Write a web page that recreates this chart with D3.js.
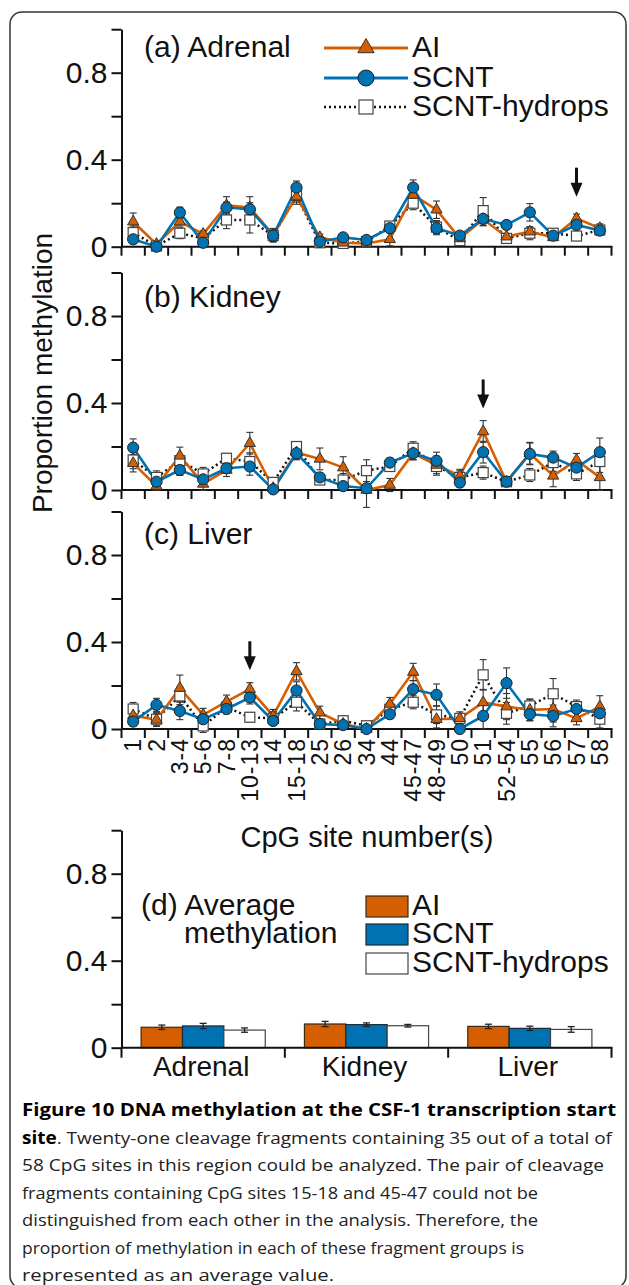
<!DOCTYPE html>
<html><head><meta charset="utf-8">
<script src="https://cdn.jsdelivr.net/npm/d3@7"></script>
<style>body{margin:0;background:#fff}svg{display:block}</style>
</head><body>
<svg id="c" width="629" height="1285"></svg>
<script>
// ---------------- DATA ----------------
const categories = ["1","2","3-4","5-6","7-8","10-13","14","15-18","25","26","34","44","45-47","48-49","50","51","52-54","55","56","57","58"];
const seriesNames = ["AI","SCNT","SCNT-hydrops"];
const yTickValues = [0, 0.2, 0.4, 0.6, 0.8, 1];
const yTickLabels = ["0", "", "0.4", "", "0.8", ""];

// (a) Adrenal
const adrenalAI      = [0.115,0.012,0.115,0.058,0.19,0.18,0.054,0.23,0.043,0.018,0.015,0.034,0.238,0.17,0.038,0.126,0.046,0.069,0.043,0.13,0.085];
const adrenalAIErr   = [0.04,0.01,0.02,0.015,0.04,0.05,0.03,0.035,0.015,0.01,0.01,0.03,0.035,0.04,0.015,0.03,0.015,0.02,0.015,0.02,0.02];
const adrenalSCNT    = [0.034,0.0,0.157,0.018,0.18,0.172,0.051,0.272,0.023,0.043,0.031,0.085,0.272,0.085,0.051,0.128,0.1,0.158,0.051,0.1,0.074];
const adrenalSCNTErr = [0.02,0.005,0.025,0.01,0.025,0.03,0.02,0.03,0.01,0.01,0.01,0.02,0.035,0.03,0.015,0.03,0.015,0.04,0.02,0.015,0.02];
const adrenalHyd     = [0.065,0.003,0.062,0.038,0.123,0.123,0.051,0.235,0.018,0.015,0.023,0.095,0.2,0.09,0.028,0.166,0.038,0.062,0.062,0.049,0.077];
const adrenalHydErr  = [0.03,0.005,0.025,0.02,0.04,0.06,0.03,0.03,0.01,0.01,0.01,0.02,0.03,0.03,0.01,0.06,0.02,0.03,0.02,0.01,0.02];

// (b) Kidney
const kidneyAI      = [0.123,0.018,0.157,0.028,0.092,0.215,0.008,0.172,0.143,0.103,0.0,0.023,0.169,0.115,0.065,0.269,0.038,0.169,0.065,0.138,0.058];
const kidneyAIErr   = [0.04,0.02,0.04,0.03,0.03,0.05,0.02,0.03,0.05,0.05,0.08,0.03,0.03,0.04,0.03,0.05,0.02,0.05,0.05,0.03,0.06];
const kidneySCNT    = [0.195,0.038,0.092,0.049,0.1,0.108,0.003,0.169,0.058,0.018,0.008,0.126,0.169,0.134,0.034,0.174,0.038,0.166,0.149,0.103,0.174];
const kidneySCNTErr = [0.04,0.02,0.025,0.02,0.02,0.04,0.01,0.03,0.02,0.02,0.02,0.02,0.03,0.04,0.02,0.05,0.015,0.05,0.03,0.02,0.065];
const kidneyHyd     = [0.138,0.058,0.135,0.074,0.146,0.131,0.035,0.2,0.046,0.046,0.089,0.108,0.192,0.108,0.058,0.08,0.038,0.069,0.126,0.074,0.131];
const kidneyHydErr  = [0.04,0.03,0.02,0.03,0.02,0.04,0.02,0.02,0.02,0.03,0.05,0.02,0.03,0.04,0.03,0.03,0.02,0.03,0.04,0.03,0.05];

// (c) Liver
const liverAI      = [0.062,0.042,0.188,0.065,0.126,0.183,0.06,0.265,0.075,0.023,0.0,0.115,0.262,0.045,0.049,0.122,0.103,0.088,0.092,0.049,0.103];
const liverAIErr   = [0.02,0.03,0.06,0.03,0.03,0.03,0.03,0.04,0.03,0.02,0.01,0.03,0.04,0.04,0.03,0.06,0.06,0.05,0.06,0.03,0.05];
const liverSCNT    = [0.034,0.111,0.083,0.045,0.092,0.145,0.037,0.177,0.023,0.018,0.0,0.068,0.183,0.157,0.0,0.06,0.211,0.068,0.06,0.092,0.072];
const liverSCNTErr = [0.02,0.03,0.04,0.03,0.02,0.03,0.02,0.04,0.02,0.01,0.01,0.02,0.04,0.05,0.01,0.06,0.07,0.03,0.05,0.02,0.03];
const liverHyd     = [0.092,0.045,0.152,0.014,0.1,0.054,0.049,0.123,0.023,0.038,0.015,0.091,0.123,0.065,0.049,0.249,0.072,0.106,0.162,0.103,0.045];
const liverHydErr  = [0.03,0.03,0.04,0.03,0.03,0.02,0.03,0.04,0.02,0.02,0.01,0.03,0.03,0.04,0.02,0.07,0.05,0.03,0.07,0.03,0.04];

// arrows: category and value of arrow tip
const arrowCategories = ["57","51","10-13"];
const arrowTips = [0.23, 0.375, 0.27];

// (d) Average
const tissues = ["Adrenal","Kidney","Liver"];
const avgAI      = [0.094,0.109,0.098];
const avgAIErr   = [0.01,0.012,0.01];
const avgSCNT    = [0.1,0.106,0.089];
const avgSCNTErr = [0.012,0.008,0.01];
const avgHyd     = [0.081,0.101,0.084];
const avgHydErr  = [0.01,0.006,0.013];

// ---------------- STYLE / LAYOUT ----------------
const ORANGE = "#D55E00", BLUE = "#0072B2";
const FONT = "'Liberation Sans', Arial, sans-serif";
const X0 = 121.5, X1 = 611.5;
const UNIT = 217.5;

const svg = d3.select("#c");

// frame
svg.append("rect").attr("x", 10).attr("y", 12).attr("width", 616).attr("height", 1276)
  .attr("rx", 12).attr("fill", "none").attr("stroke", "#333").attr("stroke-width", 1.5);

const x = d3.scaleBand().domain(categories).range([X0, X1]).padding(0);
const cx = c => x(c) + x.bandwidth() / 2;

function yAxis(g, y) {
  g.call(d3.axisLeft(y).tickValues(yTickValues).tickSize(10).tickSizeOuter(0).tickPadding(4)
    .tickFormat((d, i) => yTickLabels[i]));
  g.select(".domain").attr("stroke", "#111").attr("stroke-width", 2);
  g.selectAll(".tick line").attr("stroke", "#111").attr("stroke-width", 2);
  g.selectAll(".tick text").attr("font-family", FONT).attr("font-size", 30).attr("fill", "#111");
}

function drawPanel(zeroY, series, label, labelY, arrowIdx, showLabels) {
  const y = d3.scaleLinear().domain([0, 1]).range([zeroY, zeroY - UNIT]);
  const g = svg.append("g");
  // x axis line + boundary ticks
  g.append("line").attr("x1", X0).attr("x2", X1 + 1).attr("y1", y(0)).attr("y2", y(0))
    .attr("stroke", "#111").attr("stroke-width", 2);
  const bounds = categories.map(c => x(c)).concat([X1]);
  g.selectAll(".bt").data(bounds).join("line")
    .attr("x1", d => d).attr("x2", d => d).attr("y1", y(0)).attr("y2", y(0) + 9)
    .attr("stroke", "#111").attr("stroke-width", 2);
  yAxis(g.append("g").attr("transform", `translate(${X0},0)`), y);

  if (showLabels) {
    g.selectAll(".xl").data(categories).join("text")
      .attr("transform", d => `translate(${cx(d)},${y(0) + 9}) rotate(-90)`)
      .attr("text-anchor", "end").attr("dy", "0.36em")
      .attr("font-family", FONT).attr("font-size", 23).attr("letter-spacing", 1)
      .attr("fill", "#111").text(d => d);
  }

  g.append("text").attr("x", 144).attr("y", labelY).attr("font-family", FONT)
    .attr("font-size", 30).attr("fill", "#111").text(label);

  const line = d3.line().x((d, i) => cx(categories[i])).y(d => y(d));
  // lines
  g.append("path").attr("d", line(series.hyd)).attr("fill", "none").attr("stroke", "#111")
    .attr("stroke-width", 2.5).attr("stroke-dasharray", "2,3");
  g.append("path").attr("d", line(series.ai)).attr("fill", "none").attr("stroke", ORANGE).attr("stroke-width", 2.6);
  g.append("path").attr("d", line(series.scnt)).attr("fill", "none").attr("stroke", BLUE).attr("stroke-width", 2.6);

  // error bars
  const eb = (vals, errs) => {
    vals.forEach((v, i) => {
      const xc = cx(categories[i]);
      const e = errs[i];
      const gg = g.append("g").attr("stroke", "#333").attr("stroke-width", 1.1);
      gg.append("line").attr("x1", xc).attr("x2", xc).attr("y1", y(v + e)).attr("y2", y(v - e));
      gg.append("line").attr("x1", xc - 3.5).attr("x2", xc + 3.5).attr("y1", y(v + e)).attr("y2", y(v + e));
      gg.append("line").attr("x1", xc - 3.5).attr("x2", xc + 3.5).attr("y1", y(v - e)).attr("y2", y(v - e));
    });
  };
  eb(series.hyd, series.hydErr);
  eb(series.ai, series.aiErr);
  eb(series.scnt, series.scntErr);

  // markers
  g.selectAll(".sq").data(series.hyd).join("rect")
    .attr("x", (d, i) => cx(categories[i]) - 5).attr("y", d => y(d) - 5)
    .attr("width", 10).attr("height", 10).attr("fill", "#fff").attr("stroke", "#444").attr("stroke-width", 1.2);
  g.selectAll(".tr").data(series.ai).join("path")
    .attr("d", d3.symbol(d3.symbolTriangle, 55))
    .attr("transform", (d, i) => `translate(${cx(categories[i])},${y(d)})`)
    .attr("fill", ORANGE).attr("stroke", "#333").attr("stroke-width", 1);
  g.selectAll(".ci").data(series.scnt).join("circle")
    .attr("cx", (d, i) => cx(categories[i])).attr("cy", d => y(d)).attr("r", 5.6)
    .attr("fill", BLUE).attr("stroke", "#222").attr("stroke-width", 1);

  // arrow
  const ax = cx(arrowCategories[arrowIdx]);
  const tip = y(arrowTips[arrowIdx]);
  g.append("line").attr("x1", ax).attr("x2", ax).attr("y1", tip - 29).attr("y2", tip - 10)
    .attr("stroke", "#111").attr("stroke-width", 3);
  g.append("path").attr("d", `M${ax - 6},${tip - 14}L${ax + 6},${tip - 14}L${ax},${tip}Z`).attr("fill", "#111");
  return g;
}

drawPanel(246.7, {ai: adrenalAI, aiErr: adrenalAIErr, scnt: adrenalSCNT, scntErr: adrenalSCNTErr, hyd: adrenalHyd, hydErr: adrenalHydErr},
  "(a) Adrenal", 57, 0, false);
drawPanel(490, {ai: kidneyAI, aiErr: kidneyAIErr, scnt: kidneySCNT, scntErr: kidneySCNTErr, hyd: kidneyHyd, hydErr: kidneyHydErr},
  "(b) Kidney", 307, 1, false);
drawPanel(729, {ai: liverAI, aiErr: liverAIErr, scnt: liverSCNT, scntErr: liverSCNTErr, hyd: liverHyd, hydErr: liverHydErr},
  "(c) Liver", 544, 2, true);

// legend (a)
const leg = svg.append("g");
const legY = [48, 78, 107];
leg.append("line").attr("x1", 324).attr("x2", 408).attr("y1", legY[0]).attr("y2", legY[0]).attr("stroke", ORANGE).attr("stroke-width", 3);
leg.append("path").attr("d", d3.symbol(d3.symbolTriangle, 115)).attr("transform", `translate(366,${legY[0]})`)
  .attr("fill", ORANGE).attr("stroke", "#333").attr("stroke-width", 1);
leg.append("line").attr("x1", 324).attr("x2", 408).attr("y1", legY[1]).attr("y2", legY[1]).attr("stroke", BLUE).attr("stroke-width", 3);
leg.append("circle").attr("cx", 366).attr("cy", legY[1]).attr("r", 8).attr("fill", BLUE).attr("stroke", "#222").attr("stroke-width", 1);
leg.append("line").attr("x1", 324).attr("x2", 408).attr("y1", legY[2]).attr("y2", legY[2]).attr("stroke", "#111")
  .attr("stroke-width", 2.5).attr("stroke-dasharray", "2,3");
leg.append("rect").attr("x", 359).attr("y", legY[2] - 7).attr("width", 14).attr("height", 14)
  .attr("fill", "#fff").attr("stroke", "#444").attr("stroke-width", 1.2);
seriesNames.forEach((s, i) => {
  leg.append("text").attr("x", 412).attr("y", legY[i] + 9).attr("font-family", FONT).attr("font-size", 30)
    .attr("fill", "#111").text(s);
});

// x axis title
svg.append("text").attr("x", 367).attr("y", 847).attr("text-anchor", "middle").attr("font-family", FONT)
  .attr("font-size", 29).attr("fill", "#111").text("CpG site number(s)");

// y axis title
svg.append("text").attr("transform", "translate(52,373) rotate(-90)").attr("text-anchor", "middle")
  .attr("font-family", FONT).attr("font-size", 28).attr("fill", "#111").text("Proportion methylation");

// ---------------- PANEL D ----------------
{
  const zeroY = 1047.7;
  const y = d3.scaleLinear().domain([0, 1]).range([zeroY, zeroY - UNIT]);
  const g = svg.append("g");
  const xd = d3.scaleBand().domain(tissues).range([X0, X1]).padding(0);
  const groupW = xd.bandwidth() * 0.76;
  const xs = d3.scaleBand().domain(seriesNames).range([0, groupW]).padding(0);
  const vals = [avgAI, avgSCNT, avgHyd];
  const errs = [avgAIErr, avgSCNTErr, avgHydErr];
  const fills = [ORANGE, BLUE, "#fff"];
  const strokes = ["#3a2a1a", "#1a2a3a", "#444"];
  tissues.forEach((t, ti) => {
    const gx = xd(t) + (xd.bandwidth() - groupW) / 2;
    seriesNames.forEach((s, si) => {
      const v = vals[si][ti], e = errs[si][ti];
      const bx = gx + xs(s);
      g.append("rect").attr("x", bx).attr("y", y(v)).attr("width", xs.bandwidth()).attr("height", y(0) - y(v))
        .attr("fill", fills[si]).attr("stroke", strokes[si]).attr("stroke-width", 1.2);
      const xc = bx + xs.bandwidth() / 2;
      const eg = g.append("g").attr("stroke", "#222").attr("stroke-width", 1.3);
      eg.append("line").attr("x1", xc).attr("x2", xc).attr("y1", y(v + e)).attr("y2", y(v - e));
      eg.append("line").attr("x1", xc - 3.5).attr("x2", xc + 3.5).attr("y1", y(v + e)).attr("y2", y(v + e));
      eg.append("line").attr("x1", xc - 3.5).attr("x2", xc + 3.5).attr("y1", y(v - e)).attr("y2", y(v - e));
    });
  });
  g.append("line").attr("x1", X0).attr("x2", X1 + 1).attr("y1", y(0)).attr("y2", y(0)).attr("stroke", "#111").attr("stroke-width", 2);
  const bounds = tissues.map(t => xd(t)).concat([X1]);
  g.selectAll(".bt").data(bounds).join("line")
    .attr("x1", d => d).attr("x2", d => d).attr("y1", y(0)).attr("y2", y(0) + 10)
    .attr("stroke", "#111").attr("stroke-width", 2);
  yAxis(g.append("g").attr("transform", `translate(${X0},0)`), y);
  g.selectAll(".tl").data(tissues).join("text")
    .attr("x", d => xd(d) + xd.bandwidth() / 2 - 2).attr("y", 1076).attr("text-anchor", "middle")
    .attr("font-family", FONT).attr("font-size", 28).attr("fill", "#111").text(d => d);

  g.append("text").attr("x", 141).attr("y", 915).attr("font-family", FONT).attr("font-size", 30).attr("fill", "#111").text("(d) Average");
  g.append("text").attr("x", 184).attr("y", 943).attr("font-family", FONT).attr("font-size", 30).attr("fill", "#111").text("methylation");
  const sy = [896, 924, 953];
  seriesNames.forEach((s, i) => {
    g.append("rect").attr("x", 366).attr("y", sy[i]).attr("width", 42).attr("height", 21)
      .attr("fill", fills[i]).attr("stroke", strokes[i]).attr("stroke-width", 1.2);
    g.append("text").attr("x", 412).attr("y", sy[i] + 19).attr("font-family", FONT).attr("font-size", 30)
      .attr("fill", "#111").text(s);
  });
}

// ---------------- CAPTION ----------------
const CAP = "'Open Sans', 'Noto Sans', sans-serif";
const capLines = [
  {bold: "Figure 10 DNA methylation at the CSF-1 transcription start", rest: "", w: 594},
  {bold: "site", rest: ". Twenty-one cleavage fragments containing 35 out of a total of", w: 590},
  {bold: "", rest: "58 CpG sites in this region could be analyzed. The pair of cleavage", w: 582},
  {bold: "", rest: "fragments containing CpG sites 15-18 and 45-47 could not be", w: 516},
  {bold: "", rest: "distinguished from each other in the analysis. Therefore, the", w: 516},
  {bold: "", rest: "proportion of methylation in each of these fragment groups is", w: 502},
  {bold: "", rest: "represented as an average value.", w: 312}
];
capLines.forEach((l, i) => {
  const t = svg.append("text").attr("x", 22).attr("y", 1116 + i * 27.5)
    .attr("font-family", CAP).attr("font-size", 17).attr("fill", "#222");
  if (l.bold) t.append("tspan").attr("font-weight", "bold").attr("fill", "#000").text(l.bold);
  if (l.rest) t.append("tspan").text(l.rest);
  const natural = t.node().getComputedTextLength();
  if (Math.abs(natural - l.w) > 2) t.attr("textLength", l.w).attr("lengthAdjust", "spacingAndGlyphs");
});
</script>
</body></html>
